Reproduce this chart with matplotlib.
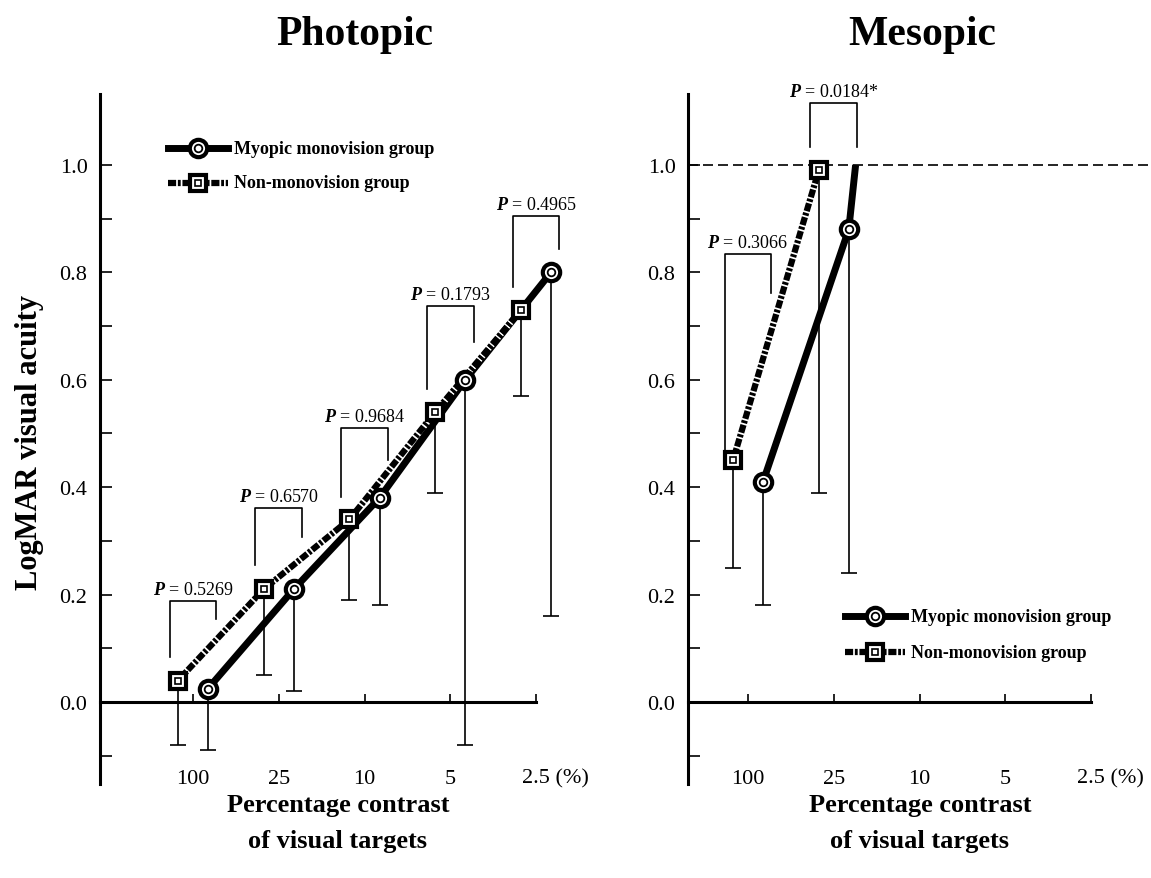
import numpy as np
import matplotlib
matplotlib.use('Agg')
from matplotlib import pyplot as plt
from matplotlib.transforms import ScaledTranslation

plt.rcParams['font.family'] = ['Liberation Serif', 'DejaVu Serif']
plt.rcParams['mathtext.fontset'] = 'custom'
plt.rcParams['mathtext.rm'] = 'Liberation Serif'
plt.rcParams['mathtext.bfit'] = 'Liberation Serif:italic:bold'

# contrast levels (%)
categories = ['100', '25', '10', '5', '2.5']

# photopic, LogMAR means and lower error ends
photopic_myopic = [0.025, 0.21, 0.38, 0.60, 0.80]
photopic_myopic_low = [-0.09, 0.02, 0.18, -0.08, 0.16]
photopic_non = [0.04, 0.21, 0.34, 0.54, 0.73]
photopic_non_low = [-0.08, 0.05, 0.19, 0.39, 0.57]
photopic_p = ['0.5269', '0.6570', '0.9684', '0.1793', '0.4965']
# bracket levels: top, left leg end, right leg end
photopic_brackets = [(0.188, 0.084, 0.155), (0.361, 0.255, 0.307), (0.51, 0.382, 0.45),
                     (0.737, 0.583, 0.670), (0.905, 0.773, 0.844)]

# mesopic, only 100 and 25 % measurable
mesopic_myopic = [0.41, 0.88]
mesopic_myopic_low = [0.18, 0.24]
mesopic_non = [0.45, 0.99]
mesopic_non_low = [0.25, 0.39]
mesopic_p = ['0.3066', '0.0184*']
mesopic_brackets = [(0.834, 0.47, 0.762), (1.115, 1.033, 1.033)]
ceiling = 1.0

W, H = 1151, 879
fig = plt.figure(figsize=(W / 100, H / 100), dpi=100)

def px_box(left, top, right, bottom):
    return [left / W, 1 - bottom / H, (right - left) / W, (bottom - top) / H]

OFF = 0.175   # group offset in category units
HALF = 0.274  # bracket half width
DASHES = (1.3, 0.28, 0.45, 0.28)

def setup(ax, xlim):
    ax.set_xlim(*xlim)
    ax.set_ylim(-0.1527, 1.1322)
    for s in ['top', 'right']:
        ax.spines[s].set_visible(False)
    ax.spines['left'].set_linewidth(2.2)
    ax.spines['bottom'].set_linewidth(2.2)
    ax.spines['bottom'].set_position(('data', 0))
    ax.spines['bottom'].set_bounds(xlim[0], len(categories) - 1)
    ax.set_yticks(np.arange(0, 1.01, 0.2))
    ax.set_yticks(np.arange(-0.1, 1.0, 0.2), minor=True)
    ax.set_yticklabels(['%.1f' % v for v in np.arange(0, 1.01, 0.2)])
    ax.tick_params(axis='y', which='both', direction='in', length=8.6, width=1.2, labelsize=16, pad=9)
    ax.set_xticks(range(len(categories)))
    ax.set_xticklabels(categories[:-1] + [categories[-1] + ' (%)'])
    ax.tick_params(axis='x', direction='in', length=5.8, width=1.2, labelsize=16, pad=48)
    last = ax.get_xticklabels()[-1]
    last.set_ha('left')
    last.set_transform(last.get_transform() + ScaledTranslation(-14 / 100, 0, fig.dpi_scale_trans))
    ax.patch.set_visible(False)

def errbars(ax, xs, ys, lows):
    ax.vlines(xs, lows, ys, color='black', lw=1.2, zorder=1)
    ax.plot(xs, lows, '_', color='black', ms=11, mew=1.2, ls='none', zorder=1)

def markers(ax, xs, ys, kind, **kw):
    if kind == 'o':
        ax.plot(xs, ys, 'o', ms=12.5, mew=3, mfc='white', mec='black', ls='none', zorder=6, **kw)
        ax.plot(xs, ys, 'o', ms=5.5, mew=1.3, mfc='white', mec='black', ls='none', zorder=7, **kw)
    else:
        ax.plot(xs, ys, 's', ms=11, mew=3, mfc='white', mec='black', ls='none', zorder=6, **kw)
        ax.plot(xs, ys, 's', ms=5, mew=1.2, mfc='white', mec='black', ls='none', zorder=7, **kw)

def bracket(ax, xc, lev, ptxt):
    top, lb, rb = lev
    ax.plot([xc - HALF, xc - HALF, xc + HALF, xc + HALF], [lb, top, top, rb], color='black', lw=1.2, zorder=1)
    ax.annotate(r'$\mathbfit{P}$ = ' + ptxt, (xc, top), xytext=(0, 2), textcoords='offset points',
                ha='center', va='bottom', fontsize=13)

def legend_key(ax, x0, x1, y, kind, label):
    # axes-fraction coordinates
    tr = ax.transAxes
    if kind == 'o':
        ax.plot([x0, x1], [y, y], color='black', lw=5, transform=tr, clip_on=False, zorder=5)
    else:
        ax.plot([x0, x1], [y, y], color='black', lw=4.5, dashes=DASHES, gapcolor='white',
                transform=tr, clip_on=False, zorder=5)
    markers(ax, [(x0 + x1) / 2], [y], kind, transform=tr, clip_on=False)
    ax.text(x1 + 0.012, y, label, transform=tr, fontsize=13, fontweight='bold', va='center', ha='left')

# ---- Photopic ----
ax1 = fig.add_axes(px_box(100, 95, 600, 785))
setup(ax1, ((100 - 193) / 85.75, (600 - 193) / 85.75))
xc = np.arange(len(categories))
errbars(ax1, xc - OFF, photopic_non, photopic_non_low)
errbars(ax1, xc + OFF, photopic_myopic, photopic_myopic_low)
ax1.plot(xc + OFF, photopic_myopic, color='black', lw=5, zorder=3, solid_capstyle='butt')
ax1.plot(xc - OFF, photopic_non, color='black', lw=4.5, dashes=DASHES, gapcolor='white', zorder=4)
markers(ax1, xc - OFF, photopic_non, 's')
markers(ax1, xc + OFF, photopic_myopic, 'o')
for i, (p, lev) in enumerate(zip(photopic_p, photopic_brackets)):
    bracket(ax1, i, lev, p)
legend_key(ax1, (168 - 100) / 500, (228 - 100) / 500, (785 - 149) / 690, 'o', 'Myopic monovision group')
legend_key(ax1, (168 - 100) / 500, (228 - 100) / 500, (785 - 184) / 690, 's', 'Non-monovision group')

# ---- Mesopic ----
ax2 = fig.add_axes(px_box(688, 95, 1151, 785))
setup(ax2, ((688 - 748) / 85.75, (1151 - 748) / 85.75))
xm = np.arange(len(mesopic_myopic))
ax2.axhline(ceiling, color='black', lw=1.2, dashes=(6, 3), zorder=1)
errbars(ax2, xm - OFF, mesopic_non, mesopic_non_low)
errbars(ax2, xm + OFF, mesopic_myopic, mesopic_myopic_low)
# myopic curve runs on to the ceiling just past 25 %
ax2.plot(list(xm + OFF) + [xm[-1] + OFF + 0.08], mesopic_myopic + [ceiling], color='black', lw=5, zorder=3,
         solid_capstyle='butt')
ax2.plot(xm - OFF, mesopic_non, color='black', lw=4.5, dashes=DASHES, gapcolor='white', zorder=4)
markers(ax2, xm - OFF, mesopic_non, 's')
markers(ax2, xm + OFF, mesopic_myopic, 'o')
for i, (p, lev) in enumerate(zip(mesopic_p, mesopic_brackets)):
    bracket(ax2, i, lev, p)
legend_key(ax2, (845 - 688) / 463, (905 - 688) / 463, (785 - 617) / 690, 'o', 'Myopic monovision group')
legend_key(ax2, (845 - 688) / 463, (905 - 688) / 463, (785 - 653) / 690, 's', 'Non-monovision group')

# ---- titles and labels ----
fig.text(355 / W, 1 - 45 / H, 'Photopic', ha='center', va='baseline', fontsize=30, fontweight='bold')
fig.text(922 / W, 1 - 45 / H, 'Mesopic', ha='center', va='baseline', fontsize=30, fontweight='bold')
xlab = 'Percentage contrast\nof visual targets'
fig.text(338 / W, 1 - 794 / H, xlab, ha='center', va='top', fontsize=19, fontweight='bold', linespacing=1.75)
fig.text(920 / W, 1 - 794 / H, xlab, ha='center', va='top', fontsize=19, fontweight='bold', linespacing=1.75)
fig.text(30 / W, 1 - 442 / H, 'LogMAR visual acuity', rotation=90, ha='center', va='center',
         fontsize=22, fontweight='bold')

fig.savefig('out.png', dpi=100)
